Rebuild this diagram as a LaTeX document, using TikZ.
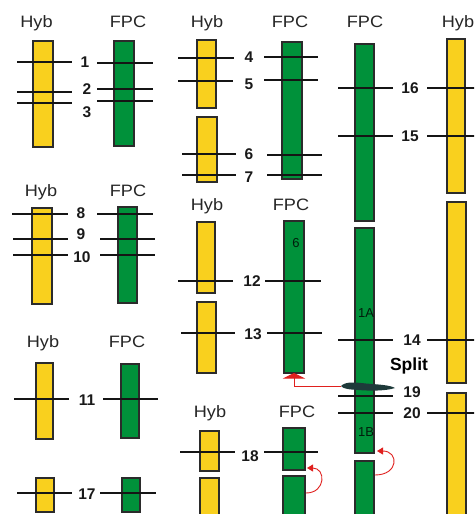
\documentclass[tikz,border=0pt]{standalone}
\usepackage{fontspec}
\setmainfont{Liberation Sans}
\usetikzlibrary{arrows.meta,calc}
\definecolor{hybfill}{HTML}{F9D01E}
\definecolor{fpcfill}{HTML}{00913A}
\definecolor{barline}{HTML}{2B2B2B}
\definecolor{mk}{HTML}{151515}
\definecolor{redarr}{HTML}{E0201E}
\definecolor{blobcol}{HTML}{1E3A3A}
\tikzset{
  bar/.style={draw=barline, line width=1.4pt, inner sep=0pt, outer sep=0pt},
  hybbar/.style={bar, fill=hybfill},
  fpcbar/.style={bar, fill=fpcfill},
  mark line/.style={draw=mk, line width=1.2pt},
  head/.style={font=\fontsize{16.5}{16.5}\selectfont, text=black!85, inner sep=0pt, text height=11.8pt, text depth=0pt, xscale=1.1},
  num/.style={font=\bfseries\fontsize{15.5}{15.5}\selectfont, text=black!90, inner sep=0pt, text height=11pt, text depth=0pt},
  tag/.style={font=\fontsize{13}{13}\selectfont, text=black!80!fpcfill, inner sep=0pt, text height=9.4pt, text depth=0pt},
  redcon/.style={draw=redarr, line width=0.9pt},
}
\newcommand{\barnode}[7]{% style, name, x1, x2, y1, y2
  \node[#1, minimum width=#4pt-#3pt, minimum height=#6pt-#5pt] (#2) at ({(#3+#4)/2},{(#5+#6)/2}) {};}
\begin{document}
\begin{tikzpicture}[x=1pt,y=-1pt]
\useasboundingbox (0,0) rectangle (474,514);
\clip (0,0) rectangle (474,514);
\fill[white] (0,0) rectangle (474,514);

% ---------- headers ----------
\node[head] (h1) at (36.5,22) {Hyb};
\node[head] (f1) at (128,22) {FPC};
\node[head] (h2) at (207,22) {Hyb};
\node[head] (f2) at (290,22) {FPC};
\node[head] (f3) at (365,22) {FPC};
\node[head] (h3) at (458,22) {Hyb};
\node[head] (h4) at (41,191) {Hyb};
\node[head] (f4) at (128,191) {FPC};
\node[head] (h5) at (207,205) {Hyb};
\node[head] (f5) at (291,205) {FPC};
\node[head] (h6) at (43,342) {Hyb};
\node[head] (f6) at (127,342) {FPC};
\node[head] (h7) at (210,412) {Hyb};
\node[head] (f7) at (297,412) {FPC};

% ---------- bars ----------
\barnode{hybbar}{hybA}{33}{53}{41}{147}{}
\barnode{fpcbar}{fpcA}{114}{134}{41}{146}{}
\barnode{hybbar}{hybBa}{197}{216}{40}{108}{}
\barnode{hybbar}{hybBb}{197}{217}{117}{182}{}
\barnode{fpcbar}{fpcB}{282}{302}{42}{179}{}
\barnode{fpcbar}{fpcCa}{355}{374}{44}{221}{}
\barnode{fpcbar}{fpcCb}{355}{374}{228}{453}{}
\barnode{fpcbar}{fpcCc}{355}{374}{461}{530}{}
\barnode{hybbar}{hybCa}{447}{465}{39}{193}{}
\barnode{hybbar}{hybCb}{447}{466}{202}{383}{}
\barnode{hybbar}{hybCc}{447}{466}{393}{530}{}
\barnode{hybbar}{hybD}{32}{52}{208}{304}{}
\barnode{fpcbar}{fpcD}{118}{137}{207}{303}{}
\barnode{hybbar}{hybEa}{197}{215}{222}{293}{}
\barnode{hybbar}{hybEb}{197}{216}{302}{373}{}
\barnode{fpcbar}{fpcE}{284}{304}{221}{373}{}
\barnode{hybbar}{hybF}{36}{53}{363}{439}{}
\barnode{fpcbar}{fpcF}{121}{139}{364}{438}{}
\barnode{hybbar}{hybG}{36}{54}{478}{512}{}
\barnode{fpcbar}{fpcG}{122}{140}{478}{512}{}
\barnode{hybbar}{hybHa}{200}{219}{431}{471}{}
\barnode{hybbar}{hybHb}{200}{219}{478}{530}{}
\barnode{fpcbar}{fpcHa}{283}{305}{428}{470}{}
\barnode{fpcbar}{fpcHb}{283}{305}{476}{530}{}

% ---------- small tags ----------
\node[tag] (t6) at (296,243) {6};
\node[tag] (t1a) at (366,313) {1A};
\node[tag] (t1b) at (366,432) {1B};

% ---------- marker lines ----------
\foreach \y/\a/\b in {62/17/72, 92/17/72, 103/17/72,
                       63/97/153, 89/97/153, 101/97/153,
                       58/178/234, 81/178/233, 154/182/236, 175/182/236,
                       57/264/318, 80/264/318, 155/267/322, 175/267/322,
                       214/12/68, 239/13/68, 255/13/68,
                       214/97/153, 239/100/155, 255/100/155,
                       399/14/69, 399/103/158,
                       281/178/233, 281/265/321, 333/181/235, 333/267/322,
                       88/338/393, 136/338/393, 340/338/393, 396/338/393, 413/338/393,
                       88/427/476, 136/427/476, 340/427/476, 413/427/476,
                       493/17/72, 493/100/156,
                       452/180/235, 452/264/318}
  \draw[mark line] (\a,\y) -- (\b,\y);

% ---------- numbers ----------
\node[num] (n1) at (85,62) {1};
\node[num] (n2) at (87,89) {2};
\node[num] (n3) at (87,112) {3};
\node[num] (n4) at (249,57) {4};
\node[num] (n5) at (249,84) {5};
\node[num] (n6) at (249,154) {6};
\node[num] (n7) at (249,177) {7};
\node[num] (n8) at (81,213) {8};
\node[num] (n9) at (81,234) {9};
\node[num] (n10) at (82,257) {10};
\node[num] (n11) at (87,400) {11};
\node[num] (n12) at (252,281) {12};
\node[num] (n13) at (253,334) {13};
\node[num] (n14) at (412,340) {14};
\node[num] (n15) at (410,136) {15};
\node[num] (n16) at (410,88) {16};
\node[num] (n17) at (87,494) {17};
\node[num] (n18) at (250,456) {18};
\node[num] (n19) at (412,392) {19};
\node[num] (n20) at (412,413) {20};
\node[font=\bfseries\fontsize{17.5}{17.5}\selectfont, inner sep=0pt, text height=12.8pt, text depth=0pt] (split) at (409,364) {Split};

% ---------- dark blob at 19 ----------
\coordinate (blobw) at (341,386);
\fill[blobcol] (blobw) .. controls (346,381) and (356,382.5) .. (366,383.5)
   .. controls (378,384.5) and (390,385) .. (395,388)
   .. controls (386,391) and (370,391) .. (358,390)
   .. controls (350,389.5) and (343,389) .. cycle;

% ---------- red connectors ----------
\draw[redcon, -{Triangle[width=22pt,length=5.5pt]}] (blobw) -| (fpcE.south);
\draw[redcon, -{Triangle[width=7pt,length=6pt]}]
  ($(fpcCc.north east)+(1,14)$) .. controls (399,475) and (399,451) .. ($(fpcCb.south east)+(3,-2)$);
\draw[redcon, -{Triangle[width=7pt,length=6pt]}]
  ($(fpcHb.north east)+(1,17)$) .. controls (326,493) and (326,468) .. ($(fpcHa.south east)+(2,-2)$);
\end{tikzpicture}
\end{document}
